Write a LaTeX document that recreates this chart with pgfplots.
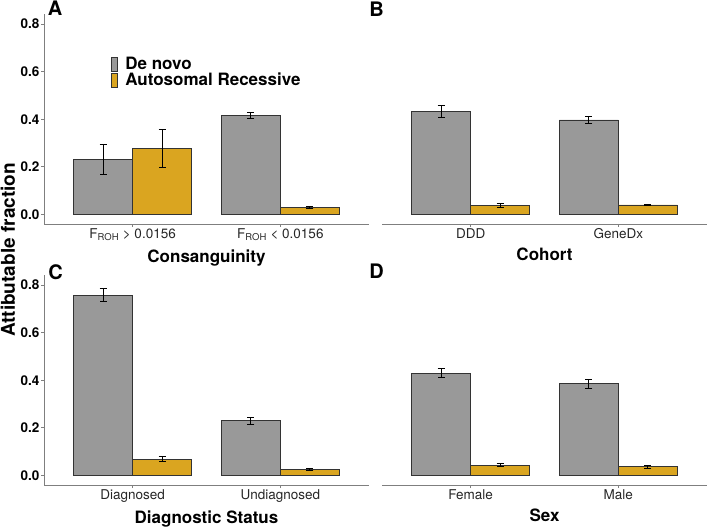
\documentclass[border=0pt]{standalone}
\usepackage{pgfplots}
\pgfplotsset{compat=1.18}
\usepackage{fontspec}
\setmainfont{TeX Gyre Heros}
\definecolor{dngrey}{HTML}{999999}
\definecolor{argold}{HTML}{DAA520}
\definecolor{axgrey}{HTML}{7F7F7F}
\pgfplotsset{
  panel/.style={
    scale only axis, width=325pt, height=209.5pt,
    xmin=0.4, xmax=2.6, ymin=-0.04, ymax=0.84,
    xtick={1,2}, ytick={0,0.2,0.4,0.6,0.8},
    ybar=0pt, bar width=59.1pt,
    tick align=outside, major tick length=3pt,
    axis line style={axgrey, line width=0.8pt},
    tick style={axgrey, line width=0.8pt},
    /pgf/number format/assume math mode=true,
    /pgf/number format/fixed, /pgf/number format/fixed zerofill, /pgf/number format/precision=1,
    xticklabel style={font=\fontsize{13.5}{14}\selectfont, text=black!85, yshift=2pt},
    yticklabel style={font=\bfseries\fontsize{13.5}{14}\selectfont, inner sep=1.5pt},
    xlabel style={font=\bfseries\fontsize{17}{18}\selectfont, yshift=-2pt},
    error bars/y dir=both, error bars/y explicit,
    error bars/error bar style={black, line width=0.9pt},
    error bars/error mark options={black, line width=0.9pt, mark size=3.5pt, rotate=90},
  },
  leftpanel/.style={panel, axis lines*=left},
  rightpanel/.style={panel, axis x line*=bottom, axis y line=none},
  dn/.style={fill=dngrey, draw=black!80, line width=0.9pt},
  ar/.style={fill=argold, draw=black!80, line width=0.9pt},
}
\begin{document}
\begin{tikzpicture}[x=1pt,y=1pt]
\path[use as bounding box] (0,0) rectangle (708,527);

% Panel A
\begin{axis}[leftpanel, at={(44pt,303pt)}, anchor=south west,
  xticklabels={F\textsubscript{ROH} > 0.0156, F\textsubscript{ROH} < 0.0156},
  xlabel={Consanguinity},
  legend style={at={(rel axis cs:0.206,0.80)}, anchor=north west, draw=none, fill=none,
    font=\bfseries\fontsize{17}{17}\selectfont, inner sep=0pt, row sep=0pt,
    nodes={inner sep=0.5pt, text height=12pt, text depth=3pt},
    /tikz/every odd column/.append style={column sep=7pt}},
  legend cell align=left,
  legend image code/.code={\draw[#1, line width=0.7pt] (0pt,-7pt) rectangle (6pt,7pt);},
]
\addplot[dn] coordinates {(1,0.231) += (0,0.063) -= (0,0.061) (2,0.415) += (0,0.012) -= (0,0.012)};
\addplot[ar] coordinates {(1,0.276) += (0,0.083) -= (0,0.080) (2,0.029) += (0,0.003) -= (0,0.003)};
\legend{De novo, Autosomal Recessive}
\end{axis}

% Panel B
\begin{axis}[rightpanel, at={(382pt,303pt)}, anchor=south west,
  xticklabels={DDD, GeneDx},
  xlabel={Cohort},
]
\addplot[dn] coordinates {(1,0.431) += (0,0.025) -= (0,0.025) (2,0.397) += (0,0.016) -= (0,0.016)};
\addplot[ar] coordinates {(1,0.037) += (0,0.009) -= (0,0.009) (2,0.040) += (0,0.003) -= (0,0.003)};
\end{axis}

% Panel C
\begin{axis}[leftpanel, at={(44pt,42pt)}, anchor=south west,
  xticklabels={Diagnosed, Undiagnosed},
  xlabel={Diagnostic Status},
]
\addplot[dn] coordinates {(1,0.757) += (0,0.027) -= (0,0.027) (2,0.230) += (0,0.015) -= (0,0.015)};
\addplot[ar] coordinates {(1,0.068) += (0,0.010) -= (0,0.010) (2,0.026) += (0,0.004) -= (0,0.004)};
\end{axis}

% Panel D
\begin{axis}[rightpanel, at={(382pt,42pt)}, anchor=south west,
  xticklabels={Female, Male},
  xlabel={Sex},
]
\addplot[dn] coordinates {(1,0.430) += (0,0.020) -= (0,0.020) (2,0.386) += (0,0.019) -= (0,0.019)};
\addplot[ar] coordinates {(1,0.044) += (0,0.007) -= (0,0.007) (2,0.036) += (0,0.007) -= (0,0.007)};
\end{axis}

\node[font=\bfseries\fontsize{20}{20}\selectfont] at (55,519) {A};
\node[font=\bfseries\fontsize{20}{20}\selectfont] at (376.5,517.5) {B};
\node[font=\bfseries\fontsize{20}{20}\selectfont] at (55.5,254.5) {C};
\node[font=\bfseries\fontsize{20}{20}\selectfont] at (376.5,256) {D};
\node[rotate=90, font=\bfseries\fontsize{19}{19}\selectfont] at (8,277) {Attibutable fraction};
\end{tikzpicture}
\end{document}
